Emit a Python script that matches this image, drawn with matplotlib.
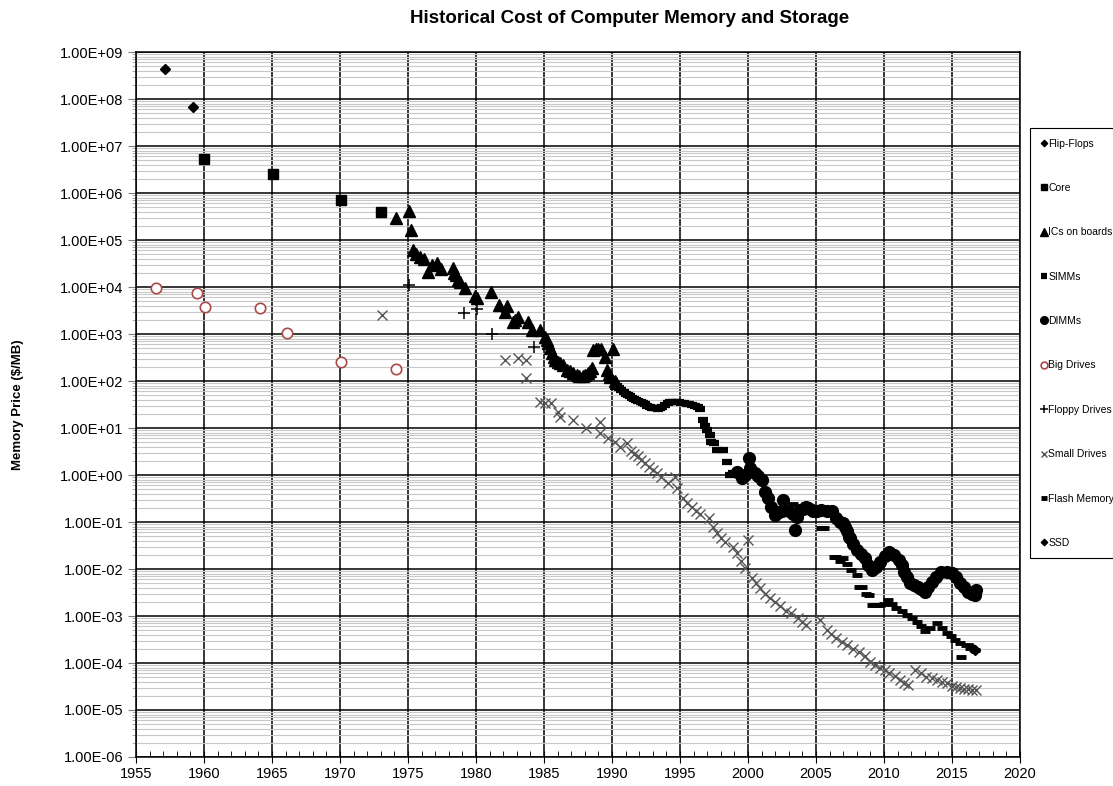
import numpy as np
import matplotlib.pyplot as plt
from matplotlib.ticker import FuncFormatter, LogLocator, MultipleLocator

plt.rcParams['font.family'] = ['Liberation Sans', 'DejaVu Sans']

# ---- data: year, price in $/MB ----
flip_year = [1957.1, 1959.2]
flip_price = [4.4e8, 6.8e7]

core_year = [1960.0, 1965.1, 1970.1, 1973.0]
core_price = [5.2e6, 2.5e6, 7.0e5, 4.0e5]

ic_year = [1974.1, 1975.1, 1975.2, 1975.4, 1975.6, 1975.9, 1976.2, 1976.5, 1976.8, 1977.1,
           1977.4, 1978.3, 1978.4, 1978.5, 1978.7, 1978.8, 1979.2, 1979.9, 1980.05, 1981.1,
           1981.7, 1982.1, 1982.25, 1982.7, 1982.9, 1983.1, 1983.8, 1984.1, 1984.7, 1985.1,
           1985.2, 1985.3, 1985.45, 1985.6, 1985.7, 1985.8, 1986.0, 1986.2, 1986.4, 1986.7,
           1986.9, 1987.1, 1987.4, 1987.6, 1987.9, 1988.05, 1988.2, 1988.35, 1988.5, 1988.6,
           1988.8, 1989.0, 1989.2, 1989.5, 1989.6, 1989.75, 1989.85, 1990.1, 1990.2, 1990.3]
ic_price = [3.0e5, 4.2e5, 1.6e5, 6.2e4, 5.0e4, 4.4e4, 4.0e4, 2.1e4, 3.0e4, 3.3e4,
            2.4e4, 2.5e4, 2.0e4, 1.8e4, 1.4e4, 1.3e4, 9.5e3, 6.3e3, 5.8e3, 8.0e3,
            4.2e3, 3.0e3, 4.0e3, 1.8e3, 2.0e3, 2.3e3, 1.8e3, 1.2e3, 1.2e3, 870,
            750, 640, 500, 400, 330, 280, 260, 240, 220, 170,
            160, 150, 135, 128, 125, 135, 148, 165, 190, 460,
            480, 480, 470, 330, 170, 140, 120, 480, 100, 90]

simm_year = [1990.4, 1990.55, 1990.7, 1990.85, 1991.0, 1991.15, 1991.3, 1991.45, 1991.6, 1991.75,
             1991.9, 1992.1, 1992.25, 1992.4, 1992.6, 1992.8, 1992.95, 1993.1, 1993.25, 1993.4,
             1993.55, 1993.7, 1993.9, 1994.1, 1994.3, 1994.5, 1994.7, 1994.9, 1995.1, 1995.3,
             1995.5, 1995.7, 1995.9, 1996.1, 1996.3, 1996.5, 1996.7, 1996.85, 1997.0, 1997.2,
             1997.3, 1997.5, 1997.7, 1998.2, 1998.45, 1998.7, 1998.9]
simm_price = [80, 70, 63, 58, 53, 50, 47, 44, 42, 40,
              38, 36, 34, 32, 30, 27.5, 27, 27, 26.5, 26,
              27, 28, 31, 34, 36, 35.5, 35, 35, 34, 33.5,
              33, 32, 31, 29.5, 28, 25, 15, 11, 9, 7,
              5.1, 4.7, 3.4, 3.4, 1.9, 1.0, 1.1]

dimm_year = [1999.2, 1999.55, 1999.8, 2000.1, 2000.15, 2000.5, 2000.75, 2001.0, 2001.25, 2001.5,
             2001.7, 2002.0, 2002.25, 2002.5, 2002.6, 2003.0, 2003.3, 2003.45, 2003.6, 2003.8,
             2004.05, 2004.3, 2004.55, 2004.8, 2005.1, 2005.4, 2005.8, 2006.2, 2006.5, 2006.8,
             2007.0, 2007.1, 2007.25, 2007.4, 2007.5, 2007.75, 2008.0, 2008.3, 2008.6, 2008.85,
             2009.1, 2009.4, 2009.7, 2010.05, 2010.4, 2010.75, 2011.1, 2011.3, 2011.5, 2011.7,
             2011.9, 2012.2, 2012.5, 2012.75, 2013.0, 2013.25, 2013.5, 2013.85, 2014.2, 2014.6,
             2015.0, 2015.3, 2015.6, 2015.9, 2016.2, 2016.45, 2016.7, 2016.8]
dimm_price = [1.17, 0.85, 1.0, 2.3, 1.38, 1.1, 0.95, 0.78, 0.44, 0.32,
              0.21, 0.14, 0.16, 0.17, 0.29, 0.17, 0.15, 0.068, 0.13, 0.18,
              0.19, 0.21, 0.19, 0.17, 0.17, 0.18, 0.17, 0.17, 0.12, 0.10,
              0.094, 0.08, 0.065, 0.049, 0.045, 0.034, 0.025, 0.021, 0.017, 0.012,
              0.0096, 0.011, 0.0144, 0.019, 0.0234, 0.02, 0.0155, 0.012, 0.0087, 0.0066,
              0.005, 0.0045, 0.0042, 0.0037, 0.0033, 0.0042, 0.0054, 0.0068, 0.0087, 0.0085,
              0.0081, 0.0066, 0.005, 0.0041, 0.0033, 0.003, 0.0028, 0.0035]

big_year = [1956.5, 1959.5, 1960.1, 1964.1, 1966.1, 1970.1, 1974.1]
big_price = [9.6e3, 7.4e3, 3.7e3, 3.5e3, 1.05e3, 250, 180]

floppy_year = [1975.1, 1979.1, 1980.1, 1981.2, 1984.3]
floppy_price = [1.1e4, 2.8e3, 3.4e3, 1.0e3, 540]

small_year = [1973.1, 1982.1, 1983.1, 1983.7, 1983.7, 1984.7, 1985.1, 1985.55, 1986.05, 1986.2,
              1987.15, 1988.1, 1989.1, 1989.1, 1989.7, 1990.2, 1990.6, 1991.1, 1991.4, 1991.65,
              1991.9, 1992.15, 1992.4, 1992.7, 1993.0, 1993.3, 1993.6, 1994.1, 1994.6, 1994.75,
              1995.2, 1995.5, 1995.85, 1996.2, 1996.5, 1997.1, 1997.4, 1997.7, 1998.0, 1998.3,
              1998.9, 1999.2, 1999.5, 1999.8, 2000.0, 2000.3, 2000.6, 2000.9, 2001.25, 2001.6,
              2002.0, 2002.35, 2002.8, 2003.2, 2003.7, 2004.0, 2004.3, 2005.3, 2005.8, 2006.1,
              2006.5, 2006.9, 2007.3, 2007.7, 2008.2, 2008.6, 2009.0, 2009.35, 2009.7, 2010.05,
              2010.4, 2010.8, 2011.2, 2011.5, 2011.8, 2012.3, 2012.7, 2013.1, 2013.5, 2013.9,
              2014.25, 2014.6, 2015.0, 2015.3, 2015.6, 2015.9, 2016.2, 2016.5, 2016.8]
small_price = [2.5e3, 280, 310, 280, 115, 36, 34, 34, 22, 17,
               15, 10, 13.6, 7.7, 6.0, 5.1, 4.0, 4.7, 3.2, 2.8,
               2.5, 2.1, 1.8, 1.5, 1.3, 1.1, 0.92, 0.67, 0.92, 0.52,
               0.32, 0.26, 0.21, 0.17, 0.15, 0.12, 0.08, 0.057, 0.045, 0.038,
               0.030, 0.0215, 0.015, 0.0103, 0.042, 0.0063, 0.005, 0.0039, 0.003, 0.0024,
               0.002, 0.0016, 0.0013, 0.00115, 0.00089, 0.00076, 0.00065, 0.00082, 0.0005, 0.00042,
               0.00034, 0.00028, 0.00024, 0.0002, 0.000174, 0.00014, 0.000107, 9e-5, 7.8e-5, 7e-5,
               6.0e-5, 5.2e-5, 4.4e-5, 3.8e-5, 3.4e-5, 7.1e-5, 6e-5, 5.1e-5, 4.7e-5, 4.4e-5,
               4.0e-5, 3.7e-5, 3.3e-5, 3.1e-5, 2.9e-5, 2.8e-5, 2.8e-5, 2.7e-5, 2.7e-5]

flash_year = [2003.3, 2004.3, 2005.4, 2005.6, 2006.3, 2006.5, 2006.75, 2007.0, 2007.25, 2007.6,
              2008.0, 2008.2, 2008.4, 2008.7, 2008.9, 2009.1, 2009.4, 2009.7, 2010.0, 2010.3,
              2010.6, 2010.9, 2011.3, 2011.7, 2012.05, 2012.4, 2012.7, 2013.0, 2013.4, 2013.9,
              2014.25, 2014.6, 2014.9, 2015.2, 2015.6, 2015.7, 2016.0, 2016.35, 2016.7]
flash_price = [0.24, 0.24, 0.074, 0.074, 0.018, 0.018, 0.015, 0.017, 0.013, 0.0095,
               0.0074, 0.0042, 0.0042, 0.003, 0.0028, 0.0017, 0.0017, 0.0017, 0.0018, 0.0022,
               0.0018, 0.00145, 0.00125, 0.00105, 0.0009, 0.00075, 0.0006, 0.00047, 0.00055, 0.0007,
               0.00055, 0.00043, 0.00037, 0.00031, 0.00027, 0.000135, 0.00024, 0.00021, 0.00019]

ssd_year = [2016.5, 2016.7]
ssd_price = [2.1e-4, 1.9e-4]

fig = plt.figure(figsize=(11.13, 7.86), dpi=100)
ax = fig.add_axes([0.1222, 0.0369, 0.7942, 0.8969])

ax.set_yscale('log')
ax.set_xlim(1955, 2020)
ax.set_ylim(1e-6, 1e9)

# grid: black majors, light grey log minors
ax.yaxis.set_major_locator(LogLocator(base=10, numticks=20))
ax.yaxis.set_minor_locator(LogLocator(base=10, subs=np.arange(2, 10), numticks=200))
ax.xaxis.set_major_locator(MultipleLocator(5))
ax.xaxis.set_minor_locator(MultipleLocator(1))
ax.grid(which='minor', axis='y', color='#c8c8c8', lw=0.8)
ax.grid(which='major', axis='both', color='black', lw=1.1)
ax.set_axisbelow(True)
ax.yaxis.set_major_formatter(FuncFormatter(lambda v, p: f'{v:.2E}'))
ax.tick_params(axis='y', which='major', direction='out', length=6, pad=3, labelsize=10.5,
               color='#808080')
ax.tick_params(axis='y', which='minor', direction='out', length=3, color='#a0a0a0')
ax.tick_params(axis='x', which='major', direction='inout', length=8, labelsize=10.5)
ax.tick_params(axis='x', which='minor', direction='in', length=4)
for s in ax.spines.values():
    s.set_color('black')
    s.set_linewidth(1.1)

ax.plot(flip_year, flip_price, 'D', ms=5, color='black', label='Flip-Flops', zorder=3)
ax.plot(core_year, core_price, 's', ms=7.5, color='black', label='Core', zorder=3)
ax.plot(ic_year, ic_price, '^', ms=8, color='black', label='ICs on boards', zorder=3)
ax.plot(simm_year, simm_price, '_', ms=6.5, mew=4.5, color='black', label='SIMMs', zorder=3)
ax.plot(dimm_year, dimm_price, 'o', ms=8.5, color='black', label='DIMMs', zorder=3)
ax.plot(big_year, big_price, 'o', ms=7.5, mfc='white', mec='#a84a48', mew=1.2,
        label='Big Drives', zorder=3)
ax.plot(floppy_year, floppy_price, '+', ms=8, mew=1.1, color='black',
        label='Floppy Drives', zorder=3)
ax.plot(small_year, small_price, 'x', ms=7.5, mew=1.0, color='#555555',
        label='Small Drives', zorder=3)
ax.plot(flash_year, flash_price, '_', ms=6.5, mew=3.5, color='black', label='Flash Memory', zorder=3)
ax.plot(ssd_year, ssd_price, 'D', ms=5, color='black', label='SSD', zorder=3)

fig.text(0.566, 0.976, 'Historical Cost of Computer Memory and Storage',
         ha='center', va='center', fontsize=13.5, fontweight='bold')
fig.text(0.016, 0.485, 'Memory Price ($/MB)', rotation=90, ha='center', va='center',
         fontsize=9.5, fontweight='bold')

leg = fig.legend(loc='upper left', bbox_to_anchor=(0.9254, 0.837), fontsize=7.5,
                 markerscale=0.65, handlelength=0.6, handletextpad=0.15,
                 labelspacing=3.3, borderpad=1.0, borderaxespad=0, fancybox=False,
                 framealpha=1, edgecolor='black')
leg.get_frame().set_linewidth(0.8)

fig.savefig('out.png', dpi=100)
